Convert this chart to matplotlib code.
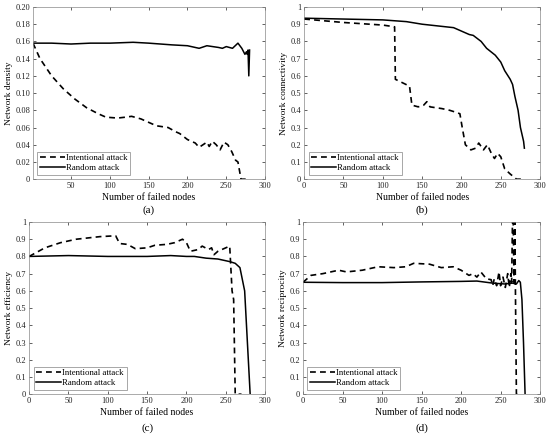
import matplotlib
matplotlib.use('Agg')
import matplotlib.pyplot as plt
from matplotlib.ticker import FuncFormatter

plt.rcParams['font.family'] = ['Liberation Serif', 'DejaVu Serif']

# (a) network density
a_int_x = [1, 10, 25, 40, 55, 70, 85, 95, 110, 120, 128, 140, 150, 160, 175, 185, 190, 200, 210, 215,
           220, 225, 228, 232, 237, 242, 247, 252, 257, 262, 265, 267, 269, 280]
a_int_y = [0.158, 0.140, 0.120, 0.105, 0.093, 0.083, 0.076, 0.072, 0.071, 0.072, 0.073, 0.070, 0.066,
           0.062, 0.060, 0.055, 0.053, 0.046, 0.042, 0.037, 0.040, 0.043, 0.038, 0.044, 0.040, 0.034,
           0.043, 0.040, 0.032, 0.022, 0.020, 0.010, 0.0, 0.0]
a_rnd_x = [1, 25, 50, 75, 100, 130, 150, 180, 200, 215, 225, 240, 245, 250, 258, 265, 270, 274, 276,
           277, 278, 279, 280]
a_rnd_y = [0.158, 0.158, 0.157, 0.158, 0.158, 0.159, 0.158, 0.156, 0.155, 0.152, 0.155, 0.153, 0.152,
           0.154, 0.152, 0.158, 0.152, 0.145, 0.148, 0.145, 0.150, 0.120, 0.150]

# (b) network connectivity
b_int_x = [0, 50, 100, 115, 116, 125, 134, 137, 145, 152, 156, 160, 175, 185, 192, 198, 201, 205, 212,
           218, 222, 225, 228, 233, 238, 242, 246, 250, 255, 262, 270, 280]
b_int_y = [0.93, 0.91, 0.895, 0.885, 0.58, 0.56, 0.54, 0.43, 0.42, 0.43, 0.45, 0.42, 0.41, 0.40, 0.39,
           0.38, 0.30, 0.20, 0.17, 0.18, 0.21, 0.19, 0.17, 0.20, 0.15, 0.12, 0.15, 0.13, 0.06, 0.03, 0.0, 0.0]
b_rnd_x = [0, 50, 100, 130, 150, 170, 190, 200, 210, 215, 225, 232, 243, 250, 255, 262, 265, 268, 272,
           275, 279, 280]
b_rnd_y = [0.935, 0.93, 0.925, 0.915, 0.90, 0.89, 0.88, 0.86, 0.84, 0.835, 0.80, 0.76, 0.72, 0.68,
           0.63, 0.58, 0.55, 0.48, 0.40, 0.30, 0.22, 0.18]

# (c) network efficiency
c_int_x = [0, 20, 40, 60, 90, 110, 115, 125, 135, 150, 160, 175, 185, 195, 200, 205, 215, 220, 228,
           232, 235, 240, 250, 255, 258, 260, 262, 270]
c_int_y = [0.80, 0.85, 0.88, 0.90, 0.915, 0.92, 0.875, 0.87, 0.845, 0.85, 0.865, 0.87, 0.88, 0.90,
           0.88, 0.83, 0.84, 0.86, 0.84, 0.85, 0.81, 0.83, 0.85, 0.86, 0.60, 0.55, 0.0, 0.0]
c_rnd_x = [0, 50, 100, 150, 180, 200, 210, 225, 240, 255, 262, 268, 274, 281]
c_rnd_y = [0.80, 0.805, 0.80, 0.80, 0.805, 0.80, 0.80, 0.79, 0.785, 0.77, 0.76, 0.735, 0.60, 0.0]

# (d) network reciprocity
d_int_x = [0, 10, 25, 45, 55, 75, 95, 115, 130, 140, 160, 175, 190, 200, 210, 215, 220, 225, 232, 238,
           240, 242, 245, 248, 250, 253, 256, 259, 261, 263, 264, 265, 266, 267, 268, 270, 275]
d_int_y = [0.65, 0.69, 0.70, 0.72, 0.71, 0.72, 0.74, 0.735, 0.74, 0.76, 0.755, 0.735, 0.74, 0.72, 0.69,
           0.70, 0.68, 0.71, 0.67, 0.665, 0.63, 0.67, 0.63, 0.71, 0.63, 0.68, 0.62, 0.70, 0.62, 0.70,
           0.65, 1.0, 1.0, 0.65, 1.0, 0.0, 0.0]
d_rnd_x = [0, 50, 100, 150, 200, 220, 240, 255, 265, 270, 273, 275, 277, 279, 281]
d_rnd_y = [0.65, 0.648, 0.648, 0.652, 0.655, 0.657, 0.645, 0.64, 0.645, 0.64, 0.66, 0.65, 0.55, 0.30, 0.0]

fig = plt.figure(figsize=(5.5, 4.37), dpi=100)

panels = [
    ([0.060, 0.590, 0.422, 0.394], a_int_x, a_int_y, a_rnd_x, a_rnd_y, 'Network density', (1, 300),
     (0, 0.2), [50, 100, 150, 200, 250, 300], [i * 0.02 for i in range(11)], '(a)', 0.519),
    ([0.553, 0.590, 0.429, 0.394], b_int_x, b_int_y, b_rnd_x, b_rnd_y, 'Network connectivity', (0, 300),
     (0, 1), list(range(0, 301, 50)), [i * 0.1 for i in range(11)], '(b)', 0.519),
    ([0.053, 0.098, 0.429, 0.394], c_int_x, c_int_y, c_rnd_x, c_rnd_y, 'Network efficiency', (0, 300),
     (0, 1), list(range(0, 301, 50)), [i * 0.1 for i in range(11)], '(c)', 0.021),
    ([0.551, 0.098, 0.431, 0.394], d_int_x, d_int_y, d_rnd_x, d_rnd_y, 'Network reciprocity', (0, 300),
     (0, 1), list(range(0, 301, 50)), [i * 0.1 for i in range(11)], '(d)', 0.021),
]


def fmt2(v, pos):
    return '0' if abs(v) < 1e-9 else '%.2f' % v


def fmt1(v, pos):
    if abs(v) < 1e-9:
        return '0'
    if abs(v - 1) < 1e-9:
        return '1'
    return '%.1f' % v


for rect, ix, iy, rx, ry, ylab, xl, yl, xt, yt, tag, ty in panels:
    ax = fig.add_axes(rect)
    ax.plot(ix, iy, color='black', lw=1.2, ls=(0, (3.5, 2.5)), label='Intentional attack')
    ax.plot(rx, ry, color='black', lw=1.1, ls='-', label='Random attack')
    ax.set_xlim(*xl)
    ax.set_ylim(*yl)
    ax.set_xticks(xt)
    ax.set_yticks(yt)
    ax.yaxis.set_major_formatter(FuncFormatter(fmt2 if tag == '(a)' else fmt1))
    ax.tick_params(direction='in', top=True, right=True, labelsize=6, length=2.5,
                   width=0.5, colors='#222222', pad=2)
    for s in ax.spines.values():
        s.set_linewidth(0.5)
        s.set_color('#888888')
    ax.set_xlabel('Number of failed nodes', fontsize=7, labelpad=2)
    ax.set_ylabel(ylab, fontsize=6.8, labelpad=2)
    leg = ax.legend(loc='lower left', fontsize=6.3, handlelength=2.8, borderpad=0.3,
                    labelspacing=0.2, handletextpad=0.2, fancybox=False, borderaxespad=0.5)
    leg.get_frame().set_edgecolor('#666666')
    leg.get_frame().set_linewidth(0.5)
    x0 = rect[0] + rect[2] / 2
    fig.text(x0, ty, tag, ha='center', va='center', fontsize=8)

fig.savefig('out.png', dpi=100)
